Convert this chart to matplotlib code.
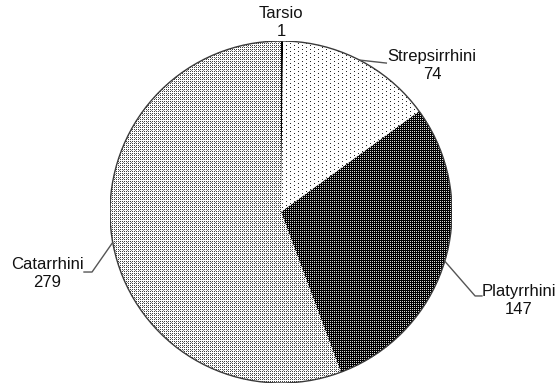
import numpy as np
import matplotlib
matplotlib.use("Agg")
import matplotlib.pyplot as plt

# Species counts per primate group
groups = ["Tarsio", "Strepsirrhini", "Platyrrhini", "Catarrhini"]
counts = [1, 74, 147, 279]

plt.rcParams["font.family"] = ["Liberation Sans", "DejaVu Sans"]

W, H = 559, 385
fig = plt.figure(figsize=(W / 100, H / 100), dpi=100)
# pie centre at (281, 212) px, radius 171 px
R = 171
ax = fig.add_axes([(281 - R) / W, (H - 212 - R) / H, 2 * R / W, 2 * R / H])
ax.axis("off")

wedges, _ = ax.pie(counts, startangle=90, counterclock=False, radius=1,
                   colors=["none"] * len(counts),
                   wedgeprops=dict(linewidth=0))

# pixel fill patterns for each wedge
n = 2 * R
yy, xx = np.indices((n, n))


def pattern(kind):
    img = np.ones((n, n))
    if kind == "solid":
        img[:] = 0.0
    elif kind == "sparse":
        dots = ((yy % 4 == 0) & (xx % 8 == 0)) | ((yy % 4 == 2) & (xx % 8 == 4))
        img[dots] = 0.15
    elif kind == "dark":
        img[:] = 0.0
        light = (yy % 2 == 0) & (xx % 2 == 0)
        img[light] = 0.85
    elif kind == "dense":
        dots = ((yy % 2 == 0) & (xx % 2 == 0))
        img[dots] = 0.25
        img[(yy % 4 == 1) & (xx % 4 == 1)] = 0.55
    return img


kinds = ["solid", "sparse", "dark", "dense"]
for w, k in zip(wedges, kinds):
    im = ax.imshow(pattern(k), cmap="gray", vmin=0, vmax=1,
                   extent=(-1, 1, -1, 1), interpolation="nearest", zorder=1)
    im.set_clip_path(w)

# outer outline
circle = plt.Circle((0, 0), 1, fill=False, edgecolor="#3a3a3a", linewidth=1.0, zorder=3)
ax.add_patch(circle)

# labels: text centre and leader-line elbow points (data units)
label_pos = [(0.0, 1.111), (0.883, 0.854), (1.389, -0.520), (-1.368, -0.360)]
leaders = [None,
           [(0.616, 0.871)],
           [(1.135, -0.491), (1.175, -0.491)],
           [(-1.105, -0.351), (-1.152, -0.351)]]

for w, name, val, pos, pts in zip(wedges, groups, counts, label_pos, leaders):
    ax.text(pos[0], pos[1], f"{name}\n{val}", ha="center", va="center",
            multialignment="center", fontsize=12, color="#111111",
            linespacing=1.25, clip_on=False)
    if pts:
        mid = np.deg2rad((w.theta1 + w.theta2) / 2)
        xs = [np.cos(mid)] + [p[0] for p in pts]
        ys = [np.sin(mid)] + [p[1] for p in pts]
        ax.plot(xs, ys, color="#555555", linewidth=1.0, clip_on=False, zorder=4)

ax.set_xlim(-1, 1)
ax.set_ylim(-1, 1)
ax.set_aspect("equal")

fig.savefig("out.png", dpi=100)
